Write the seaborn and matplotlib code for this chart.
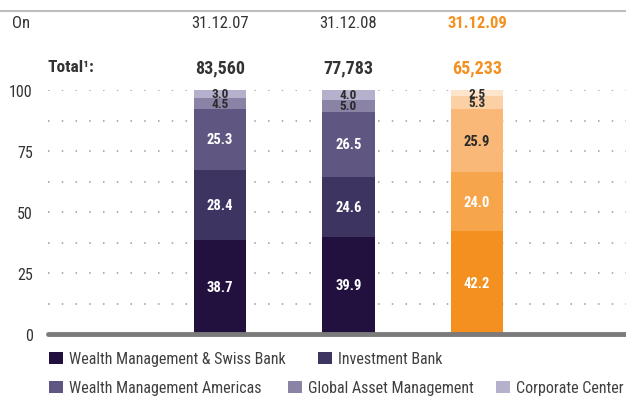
# encoding:utf-8
# Description: personnel by business division, stacked share bars
import pandas as pd
import numpy as np
import matplotlib.pyplot as plt
import seaborn as sns
from matplotlib.patches import Patch

# 数据
dates = ['31.12.07', '31.12.08', '31.12.09']
totals = ['83,560', '77,783', '65,233']
divisions = ['Wealth Management & Swiss Bank', 'Investment Bank',
             'Wealth Management Americas', 'Global Asset Management', 'Corporate Center']
wm_swiss = [38.7, 39.9, 42.2]
invest_bank = [28.4, 24.6, 24.0]
wm_americas = [25.3, 26.5, 25.9]
global_am = [4.5, 5.0, 5.3]
corp_center = [3.0, 4.0, 2.5]

# 颜色
purples = ['#22113f', '#3d3462', '#5f5782', '#8a83a6', '#b5b0cb']
oranges = ['#f39020', '#f7a54b', '#f9b877', '#fbd0a4', '#fde4cc']
label_dark = '#2b2b2b'
text_c = '#333333'

sns.set_style('white')
plt.rcParams['font.family'] = ['Roboto Condensed', 'Liberation Sans Narrow', 'Roboto', 'DejaVu Sans']

fig = plt.figure(figsize=(6.26, 4.02), dpi=100)
ax = fig.add_axes([48 / 626, 67 / 402, 578 / 626, 244 / 402])

series = [wm_swiss, invest_bank, wm_americas, global_am, corp_center]
seg = np.array(series)
cum = seg.cumsum(axis=0)

# 叠加绘制：先画最高的累计值，再依次覆盖
for i in range(len(series) - 1, -1, -1):
    df = pd.DataFrame({'date': dates, 'top': cum[i]})
    pal = {dates[0]: purples[i], dates[1]: purples[i], dates[2]: oranges[i]}
    sns.barplot(data=df, x='date', y='top', hue='date', palette=pal, legend=False,
                width=0.405, saturation=1, linewidth=0, ax=ax)

# 数值标签（顶部两段很窄，字号略小）
for i, vals in enumerate(series):
    for x, v in enumerate(vals):
        mid = cum[i][x] - v / 2
        c = 'white' if v > 10 else label_dark
        if x == 2 and i == 2:
            c = label_dark
        ax.text(x, mid, '%.1f' % v, ha='center', va='center',
                color=c, fontsize=10.5 if v > 10 else 9.5, fontweight='bold')

ax.set_xlim(-1.339, 3.16)
ax.set_ylim(0, 100)
ax.set_yticks([0, 25, 50, 75, 100])
ax.set_yticks([12.5, 37.5, 62.5, 87.5], minor=True)
ax.yaxis.grid(True, which='both', color='#9a9a9a', linestyle=(0, (1, 8)), linewidth=1.1)
ax.set_axisbelow(True)
ax.set_xticks([])
ax.set_xlabel('')
ax.set_ylabel('')
ax.tick_params(axis='y', which='both', length=0, labelsize=11.5, labelcolor=text_c, pad=11)
for s in ax.spines.values():
    s.set_visible(False)
ax.axhline(0, color='#7b7b7b', linewidth=3.5, clip_on=False, zorder=5)

# 表头
fig.add_artist(plt.Line2D([0, 1], [1 - 12 / 402, 1 - 12 / 402], color='#bdbdbd', linewidth=1.5))
fig.text(12 / 626, 1 - 24 / 402, 'On', ha='left', va='center', fontsize=12, color=text_c)
fig.text(48 / 626, 1 - 68 / 402, 'Total¹:', ha='left', va='center', fontsize=12.5,
         color=text_c, fontweight='bold')
for x, (d, t) in enumerate(zip(dates, totals)):
    c = '#f39020' if x == 2 else text_c
    ax.text(x, 1.0 + (335 - 24 - 244) / 244, d, transform=ax.get_xaxis_transform(),
            ha='center', va='center', fontsize=12, color=c,
            fontweight='bold' if x == 2 else 'normal')
    ax.text(x, 1.0 + (335 - 68 - 244) / 244, t, transform=ax.get_xaxis_transform(),
            ha='center', va='center', fontsize=13, color=c, fontweight='bold')

# 图例：每项单独定位
handles = [Patch(facecolor=c, edgecolor='none') for c in purples]
leg_pos = [(49, 360), (318, 360), (49, 389), (288, 389), (496, 389)]
for h, name, (px, py) in zip(handles, divisions, leg_pos):
    fig.legend([h], [name], loc='center left',
               bbox_to_anchor=(px / 626, 1 - py / 402), frameon=False,
               handlelength=0.85, handleheight=0.85, handletextpad=0.4,
               borderpad=0, borderaxespad=0, fontsize=11.5, labelcolor='#404040')

fig.savefig('out.png', dpi=100)
